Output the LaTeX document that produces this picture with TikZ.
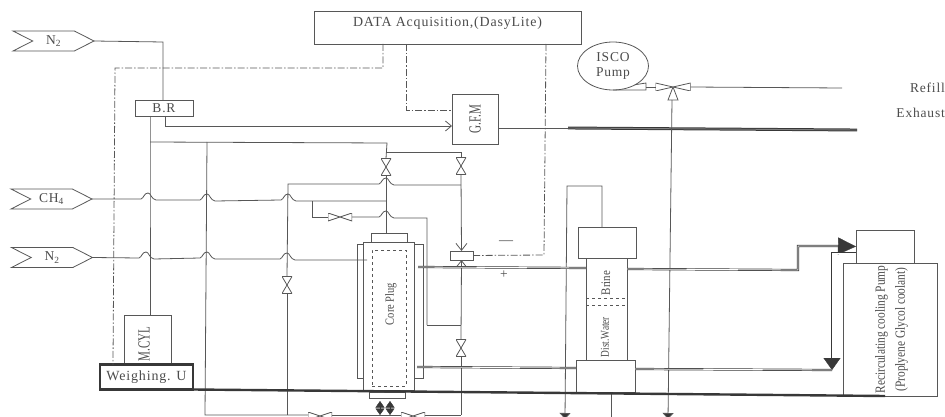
\documentclass[tikz,border=0pt]{standalone}
\usepackage{graphicx}
\usepackage{fontspec}
\setmainfont[LetterSpace=6]{Liberation Serif}
\newfontfamily\tightserif{Liberation Serif}
\usetikzlibrary{arrows.meta,shapes.geometric,shapes.symbols}

\definecolor{pipegray}{gray}{0.34}
\definecolor{inkgray}{gray}{0.22}
\definecolor{textgray}{gray}{0.30}

\newcommand{\hump}[2]{-- (#1-7,#2) .. controls (#1-4,#2-1) and (#1-4,#2-6) .. (#1,#2-6) .. controls (#1+3,#2-6) and (#1+3,#2) .. (#1+8,#2+1)}
\newcommand{\fsize}[1]{\fontsize{#1}{#1}\selectfont}
\newcommand{\tall}[3]{\rotatebox{90}{\scalebox{#1}[1]{\tightserif\fsize{#2}#3}}}

\tikzset{
    pipe/.style={draw=pipegray, line width=0.8pt},
    daqline/.style={draw=pipegray, line width=0.8pt, dash pattern=on 7pt off 2pt on 1.5pt off 2pt},
    twinpipe/.style={draw=inkgray, line width=0.7pt, double=white, double distance=0.8pt},
    exhaustpipe/.style={draw=inkgray, line width=1pt, double=gray, double distance=0.9pt},
    box/.style={draw=pipegray, line width=0.8pt, fill=white, inner sep=0pt, outer sep=0pt, text=textgray},
    gastag/.style={box, shape=signal, signal from=west, signal to=east, signal pointer angle=54,
        minimum width=81pt, minimum height=20pt, font=\fsize{13.5}},
    vvalve/.style={inner sep=0pt, outer sep=0pt, minimum width=10pt, minimum height=17pt,
        path picture={\draw[pipegray, line width=0.8pt] (path picture bounding box.north west) -- (path picture bounding box.north east)
            -- (path picture bounding box.south west) -- (path picture bounding box.south east) -- cycle;}},
    hvalve/.style={inner sep=0pt, outer sep=0pt, minimum width=24pt, minimum height=8pt,
        path picture={\draw[pipegray, line width=0.8pt] (path picture bounding box.north west) -- (path picture bounding box.south west)
            -- (path picture bounding box.north east) -- (path picture bounding box.south east) -- cycle;}},
    plain/.style={inner sep=0pt, text=textgray}
}

\begin{document}
\begin{tikzpicture}[x=1pt, y=-1pt, font=\fsize{13.5}]

            \useasboundingbox (0,0) rectangle (945,417);

            % --- Entradas de gas ---
            \node[gastag] (tagNtop) at (53.5,41) {N\textsubscript{2}\hspace{10pt}};
            \node[gastag] (tagCh) at (51.5,199) {CH\textsubscript{4}\hspace{10pt}};
            \node[gastag] (tagNlow) at (52,257.5) {N\textsubscript{2}\hspace{10pt}};

            % --- Cajas ---
            \node[box, minimum width=267pt, minimum height=33pt, text depth=11pt, font=\fsize{13.9}] (data) at (447.5,27.5) {DATA Acquisition,(DasyLite)};
            \node[box, minimum width=58pt, minimum height=16pt] (br) at (164,108) {B.R\hspace{14pt}};
            \node[box, minimum width=46pt, minimum height=50pt] (gfm) at (475,119) {\tall{0.65}{17}{G.F.M}};
            \node[box, minimum width=47pt, minimum height=48pt] (mcyl) at (147.5,339) {};
            \node[plain] (mcyllabel) at (144,344) {\tall{0.65}{17}{M.CYL}};
            \node[box, line width=2.4pt, draw=inkgray, minimum width=93pt, minimum height=25pt, font=\fsize{14}] (weigh) at (146.5,377) {Weighing. U};
            \node[draw=pipegray, line width=0.8pt, shape=ellipse, inner sep=0pt, outer sep=0pt, minimum width=71pt, minimum height=48pt, align=center, text=textgray] (isco) at (613,66) {ISCO\\[1pt]Pump};

            % --- Celda del nucleo ---
            \node[box, minimum width=66pt, minimum height=134pt] (jacket) at (390,311) {};
            \node[box, minimum width=51pt, minimum height=148pt] (core) at (388.5,316) {};
            \node[box, minimum width=36pt, minimum height=9pt] (captop) at (389,237.5) {};
            \node[box, minimum width=36pt, minimum height=6pt] (capbot) at (387,395) {};
            \node[box, dashed, minimum width=34pt, minimum height=136pt] (plug) at (389,318) {};
            \node[plain] (pluglabel) at (391,304) {\tall{0.84}{12.5}{Core Plug}};
            \node[box, minimum width=23pt, minimum height=9pt] (mix) at (461.5,255.5) {};

            % --- Columna Brine / Dist. Water ---
            \node[box, minimum width=41pt, minimum height=102pt] (column) at (606.5,309) {};
            \node[box, minimum width=58pt, minimum height=31pt] (topbox) at (607,242.5) {};
            \node[box, minimum width=59pt, minimum height=32pt] (botbox) at (605.5,376) {};
            \node[plain] (brine) at (606,283) {\tall{0.84}{13}{Brine}};
            \node[plain] (dist) at (605,337) {\tall{0.78}{12}{Dist.Water}};
            \draw[dashed, pipegray] (586,298) -- (627,298);
            \draw[dashed, pipegray] (586,305) -- (627,305);

            % --- Bomba de recirculacion ---
            \node[box, minimum width=58pt, minimum height=33pt] (pumpbox) at (885,246.5) {};
            \node[box, minimum width=94pt, minimum height=133pt] (recirc) at (890,329.5) {\hspace{4pt}\tall{0.815}{14}{\begin{tabular}{@{}c@{}}Recirculating cooling Pump\\[6pt](Proplyene Glycol coolant)\end{tabular}}};

            % --- Valvulas ---
            \node[vvalve] (valveA) at (386,167) {};
            \node[vvalve] (valveB) at (461,166) {};
            \node[vvalve] (valveD) at (287,285) {};
            \node[vvalve] (valveE) at (461,348) {};
            \node[hvalve] (valveC) at (340,217) {};
            \node[hvalve] (valveF) at (320,416) {};
            \node[hvalve] (valveG) at (413,416) {};
            \node[hvalve, minimum width=35pt] (valveH) at (673,87) {};
            \draw[pipe] (valveH.center) -- ++(-5,13) -- ++(10,0) -- cycle;

            % --- Puntos de union ---
            \coordinate (jFeed) at (150,142);
            \coordinate (jDrop) at (207,142);
            \coordinate (jBotL) at (205,415);
            \coordinate (jTopA) at (387,143);
            \coordinate (jTee) at (386,152);
            \coordinate (jTeeB) at (461,152);
            \coordinate (jLoop) at (288,184);
            \coordinate (jCross) at (461,185);
            \coordinate (jBotD) at (287,415);
            \coordinate (jBotE) at (461,415);
            \coordinate (jCh) at (312,201);
            \coordinate (jChEnd) at (386,201);
            \coordinate (jChLow) at (312,217);
            \coordinate (jRight) at (427,218);
            \coordinate (jRightLow) at (427,325);
            \coordinate (jE) at (461,325);
            \coordinate (jGfmIn) at (165,126);
            \coordinate (jNend) at (367,260);
            \coordinate (jExhA) at (568,128);
            \coordinate (jExhB) at (857,130);
            \coordinate (jRefill) at (842,88);
            \coordinate (jIsco) at (646,90);
            \coordinate (jIscoUp) at (646,83);
            \coordinate (jIscoOut) at (646,87);
            \coordinate (jBase) at (885,396);

            % --- Gas ---
            \draw[pipe] (tagNtop.east) -- (163,42) -- (br.north -| 163,0);
            \draw[pipe] (br.south -| jFeed) -- (jFeed) -- (mcyl.north -| jFeed);
            \draw[pipe] (jFeed) -- (jTopA) -- (valveA.north);
            \draw[pipe] (jDrop) -- (jBotL) -- (valveF.west |- jBotL);
            \draw[pipe] (valveF.east |- jBotL) -- (valveG.west |- jBotL);
            \draw[pipe] (valveG.east |- jBotL) -- (jBotE);
            \draw[pipe] (jTee) -- (jTeeB) -- (valveB.north);
            \draw[pipe] (valveA.south) -- (captop.north -| valveA);
            \draw[pipe, arrows={-{Straight Barb[length=7pt,width=11pt]}}] (valveB.south) -- (mix.north);
            \draw[pipe, arrows={-{Straight Barb[length=7pt,width=11pt]}}] (valveE.north) -- (mix.south);
            \draw[pipe] (valveE.south) -- (jBotE);
            \draw[pipe] (jRightLow) -- (jE);
            \draw[pipe] (jBotD) -- (valveD.south);
            \draw[pipe] (valveD.north) -- (jLoop) \hump{386}{184} -- (jCross);
            \draw[pipe] (tagCh.east) \hump{148}{199} \hump{207}{200} \hump{288}{200} -- (jCh) -- (jChEnd);
            \draw[pipe] (jCh) -- (jChLow) -- (valveC.west);
            \draw[pipe] (valveC.east) \hump{386}{217} -- (jRight) -- (jRightLow);
            \draw[pipe] (tagNlow.east) \hump{146}{258} \hump{207}{258} \hump{287}{259} -- (jNend);
            \draw[pipe, arrows={-{Straight Barb[length=6pt,width=10pt]}}] (br.south -| jGfmIn) -- (jGfmIn) -- (gfm.west |- jGfmIn);
            \draw[pipe] (gfm.east |- jExhA) -- (jExhA);
            \draw[exhaustpipe] (jExhA) -- (jExhB);

            % --- Adquisicion de datos ---
            \draw[daqline] (data.south -| 383,0) -- (383,68) -- (115,68) -- (weigh.north -| 113,0);
            \draw[daqline] (data.south -| 406,0) -- (406,110) -- (gfm.west |- 0,110);
            \draw[daqline] (data.south -| 546,0) -- (544,255) -- (mix.east);

            % --- Bomba ISCO ---
            \draw[pipe] (isco.south) -- (jIsco) -- (jIscoUp) -- (isco.-40);
            \draw[pipe] (jIscoOut) -- (valveH.west);
            \draw[pipe] (valveH.east) -- (jRefill);
            \draw[pipe, arrows={-{Triangle[length=6pt,width=11pt,fill=inkgray]}}] (672,100) -- (668,419);
            \draw[pipe, arrows={-{Triangle[length=6pt,width=11pt,fill=inkgray]}}] (topbox.north -| 602,0) -- (602,186) -- (567,186) -- (565,419);
            \draw[pipe] (botbox.south -| 611,0) -- (611,417);

            % --- Refrigerante ---
            \draw[twinpipe] (418,267) -- (column.west |- 0,268);
            \draw[twinpipe] (column.east |- 0,269) -- (798,270) -- (798,246) -- (838,246);
            \draw[inkgray, arrows={-{Triangle[length=18pt,width=17pt]}}] (838,246) -- (pumpbox.west);
            \draw[twinpipe] (pumpbox.west |- 0,253) -- (832,253) -- (832,358);
            \draw[inkgray, arrows={-{Triangle[length=12pt,width=17pt]}}] (832,358) -- (832,370);
            \draw[twinpipe] (417,367) -- (botbox.west |- 0,368);
            \draw[twinpipe] (botbox.east |- 0,369) -- (832,370);
            \draw[inkgray, line width=2.4pt] (weigh.south east) -- (jBase);

            % --- Flechas bajo la celda ---
            \foreach \x in {380,390} {
                \draw[inkgray, arrows={{Triangle[length=6.5pt,width=9pt]}-{Triangle[length=6.5pt,width=9pt]}}] (\x,401) -- (\x,415);
            }

            % --- Textos sueltos ---
            \node[plain, font=\fsize{14}] (minus) at (506,243) {---};
            \node[plain] (plus) at (504,275) {+};
            \node[plain, anchor=east] (refill) at (945,88) {Refill};
            \node[plain, anchor=east] (exhaust) at (945,113) {Exhaust};

        \end{tikzpicture}
\end{document}
